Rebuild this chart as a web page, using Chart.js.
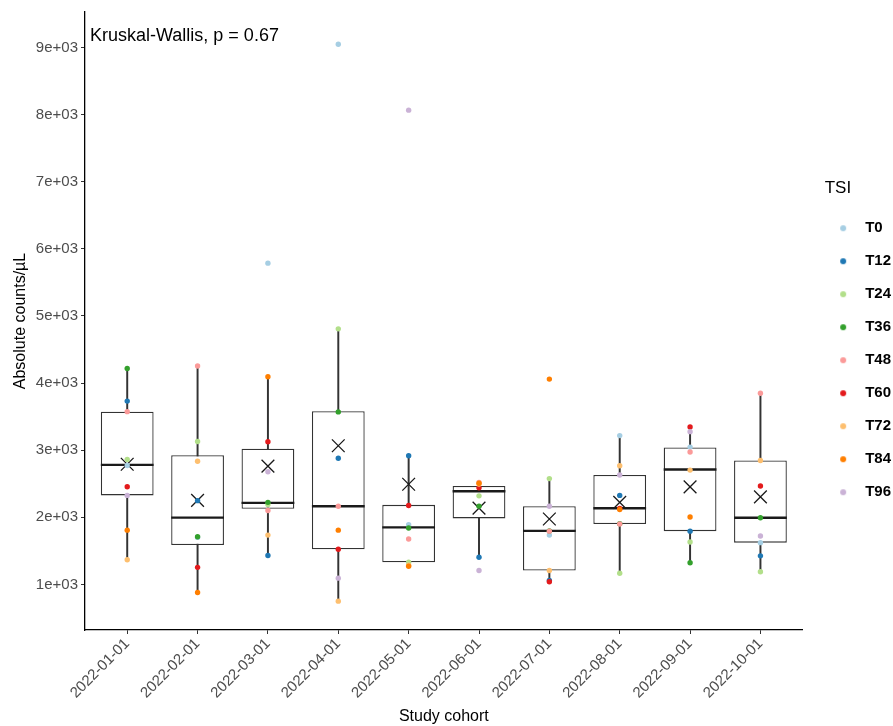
<!DOCTYPE html>
<html>
<head>
<meta charset="utf-8">
<script src="https://cdn.jsdelivr.net/npm/chart.js@4.4.1/dist/chart.umd.min.js"></script>
<style>
  html, body { margin: 0; padding: 0; background: #ffffff; }
  #wrap { width: 893px; height: 726px; position: relative; }
</style>
</head>
<body>
<div id="wrap"><canvas id="c" width="893" height="726"></canvas></div>
<script>
// ---- data ----
const categories = ['2022-01-01','2022-02-01','2022-03-01','2022-04-01','2022-05-01','2022-06-01','2022-07-01','2022-08-01','2022-09-01','2022-10-01'];
const tsiNames = ['T0','T12','T24','T36','T48','T60','T72','T84','T96'];
const tsiColors = ['#A6CEE3','#1F78B4','#B2DF8A','#33A02C','#FB9A99','#E31A1C','#FDBF6F','#FF7F00','#CAB2D6'];

// values per TSI, one entry per cohort (null = not shown)
const T0  = [2772, 1700, 5787, 9050, 1889, null, 1734, 3217, 3046, 1622];
const T12 = [3731, 2248, 1431, 2880, 2916, 1404, 1059, 2326, 1793, 1425];
const T24 = [2860, 3129, 2189, 4808, 1330, 2319, 2576, 1166, 1631, 1188];
const T36 = [4216, 1710, 2222, 3570, 1840, 2166, 1797, 1905, 1323, 1993];
const T48 = [3574, 4255, 2101, 2165, 1677, 2520, 1793, 1900, 2972, 3849];
const T60 = [2454, 1254, 3125, 1524, 2175, 2440, 1040, 2130, 3345, 2467];
const T72 = [1367, 2835, 1734,  750, 1285, 2495, 1206, 2767, 2703, 2847];
const T84 = [1808,  878, 4094, 1808, 1271, 2507, 4059, 2116, 2003, null];
const T96 = [2326, null, 2679, 1093, 8067, 1207, 2165, 2630, 3276, 1720];
const tsiValues = [T0, T12, T24, T36, T48, T60, T72, T84, T96];

// box-plot summaries per cohort
const whiskerLow  = [1367,  878, 1431,  750, 1271, 1404, 1040, 1166, 1323, 1188];
const boxQ1       = [2326, 1587, 2126, 1524, 1330, 1983, 1206, 1900, 1793, 1622];
const boxMedian   = [2781, 1994, 2214, 2165, 1849, 2388, 1797, 2135, 2713, 1993];
const boxQ3       = [3574, 2924, 3022, 3580, 2185, 2467, 2165, 2630, 3040, 2847];
const whiskerHigh = [4216, 4255, 4094, 4808, 2916, 2507, 2576, 3217, 3345, 3849];
const groupMean   = [2790, 2251, 2762, 3066, 2492, 2136, 1974, 2223, 2454, 2304];

const yTicks = [1000,2000,3000,4000,5000,6000,7000,8000,9000];
const annotationText = 'Kruskal-Wallis, p = 0.67';

// ---- build chart ----
const FONT = "'Liberation Sans', Arial, Helvetica, sans-serif";

function legendDot(color) {
  const cv = document.createElement('canvas');
  cv.width = 22; cv.height = 8;
  const g = cv.getContext('2d');
  g.fillStyle = color;
  g.beginPath(); g.arc(4, 4, 3, 0, Math.PI * 2); g.fill();
  return cv;
}

const halfBox = (ctx) => {
  const s = ctx.chart.scales.x;
  return (s.getPixelForValue(1) - s.getPixelForValue(0)) * 0.375;
};

const datasets = [];
datasets.push({
  type: 'bar', label: '_whisker', order: 100, grouped: false,
  data: categories.map((c, i) => ({ x: i, y: [whiskerLow[i], whiskerHigh[i]] })),
  backgroundColor: '#333333', borderWidth: 0, barThickness: 1.3
});
datasets.push({
  type: 'bar', label: '_box', order: 99, grouped: false,
  data: categories.map((c, i) => ({ x: i, y: [boxQ1[i], boxQ3[i]] })),
  backgroundColor: '#ffffff', borderColor: '#333333', borderWidth: 1.3, borderSkipped: false,
  barPercentage: 0.75, categoryPercentage: 1
});
datasets.push({
  type: 'scatter', label: '_median', order: 98,
  data: categories.map((c, i) => ({ x: i, y: boxMedian[i] })),
  pointStyle: 'line', radius: halfBox, borderColor: '#1a1a1a', borderWidth: 2.4, backgroundColor: '#1a1a1a'
});
datasets.push({
  type: 'scatter', label: '_mean', order: 97,
  data: categories.map((c, i) => ({ x: i, y: groupMean[i] })),
  pointStyle: 'crossRot', radius: 9, borderColor: '#1a1a1a', borderWidth: 1.3
});
tsiNames.forEach((name, k) => {
  datasets.push({
    type: 'scatter', label: name, order: 9 - k,
    data: categories.map((c, i) => ({ x: i, y: tsiValues[k][i] })).filter(p => p.y !== null),
    pointStyle: 'circle', radius: 2.7, borderWidth: 0, backgroundColor: tsiColors[k], borderColor: tsiColors[k]
  });
});

const annotationPlugin = {
  id: 'kwText',
  afterDraw(chart) {
    const { ctx, chartArea } = chart;
    ctx.save();
    ctx.font = '18px ' + FONT;
    ctx.fillStyle = '#000000';
    ctx.textBaseline = 'alphabetic';
    ctx.textAlign = 'left';
    ctx.fillText(annotationText, chartArea.left + 5, 41);
    ctx.restore();
  }
};

// shifts the legend drawing to match the reference placement
const legendShift = { dx: 22, dy: -18 };
const legendShiftPlugin = {
  id: 'legendShift',
  afterInit(chart) {
    const lg = chart.legend;
    if (!lg || lg._shifted) return;
    const orig = lg.draw;
    lg.draw = function () {
      const ctx = this.ctx;
      ctx.save();
      ctx.translate(legendShift.dx, legendShift.dy);
      orig.apply(this, arguments);
      ctx.restore();
    };
    lg._shifted = true;
  }
};

new Chart(document.getElementById('c'), {
  data: { datasets },
  options: {
    responsive: false,
    animation: false,
    events: [],
    layout: { padding: { left: 0, right: 14, top: 8, bottom: 0 } },
    plugins: {
      tooltip: { enabled: false },
      legend: {
        position: 'right',
        align: 'center',
        title: { display: true, text: 'TSI', color: '#000', position: 'start', font: { family: FONT, size: 17 }, padding: { top: 0, bottom: 2 } },
        labels: {
          usePointStyle: true,
          color: '#000',
          padding: 18,
          font: { family: FONT, size: 15, weight: 'bold' },
          generateLabels: () => tsiNames.map((n, k) => ({
            text: n, pointStyle: legendDot(tsiColors[k]), fillStyle: tsiColors[k],
            strokeStyle: tsiColors[k], lineWidth: 0, hidden: false, datasetIndex: 4 + k
          }))
        }
      }
    },
    scales: {
      x: {
        type: 'linear', min: -0.6, max: 9.6, offset: false,
        afterBuildTicks: (s) => { s.ticks = categories.map((c, i) => ({ value: i })); },
        afterFit: (s) => { s.height = 96; },
        ticks: {
          autoSkip: false, maxRotation: 45, minRotation: 45, color: '#4d4d4d',
          font: { family: FONT, size: 15 }, padding: 1,
          callback: (v) => categories[v]
        },
        grid: { offset: false, drawOnChartArea: false, drawTicks: true, tickLength: 4, color: '#333333' },
        border: { display: true, color: '#000000', width: 1.3 },
        title: { display: true, text: 'Study cohort', color: '#000', font: { family: FONT, size: 16 }, padding: { top: 0, bottom: 0 } }
      },
      y: {
        type: 'linear', min: 320, max: 9530,
        afterBuildTicks: (s) => { s.ticks = yTicks.map(v => ({ value: v })); },
        afterFit: (s) => { s.width = 85; },
        ticks: {
          color: '#4d4d4d', font: { family: FONT, size: 15 }, padding: 3,
          callback: (v) => { const e = Math.floor(Math.log10(v)); return (v / Math.pow(10, e)).toFixed(0) + 'e+' + String(e).padStart(2, '0'); }
        },
        grid: { drawOnChartArea: false, drawTicks: true, tickLength: 4, color: '#333333' },
        border: { display: true, color: '#000000', width: 1.3 },
        title: { display: true, text: 'Absolute counts/µL', color: '#000', font: { family: FONT, size: 16 }, padding: { top: 11, bottom: 0 } }
      }
    }
  },
  plugins: [legendShiftPlugin, annotationPlugin]
});
</script>
</body>
</html>
